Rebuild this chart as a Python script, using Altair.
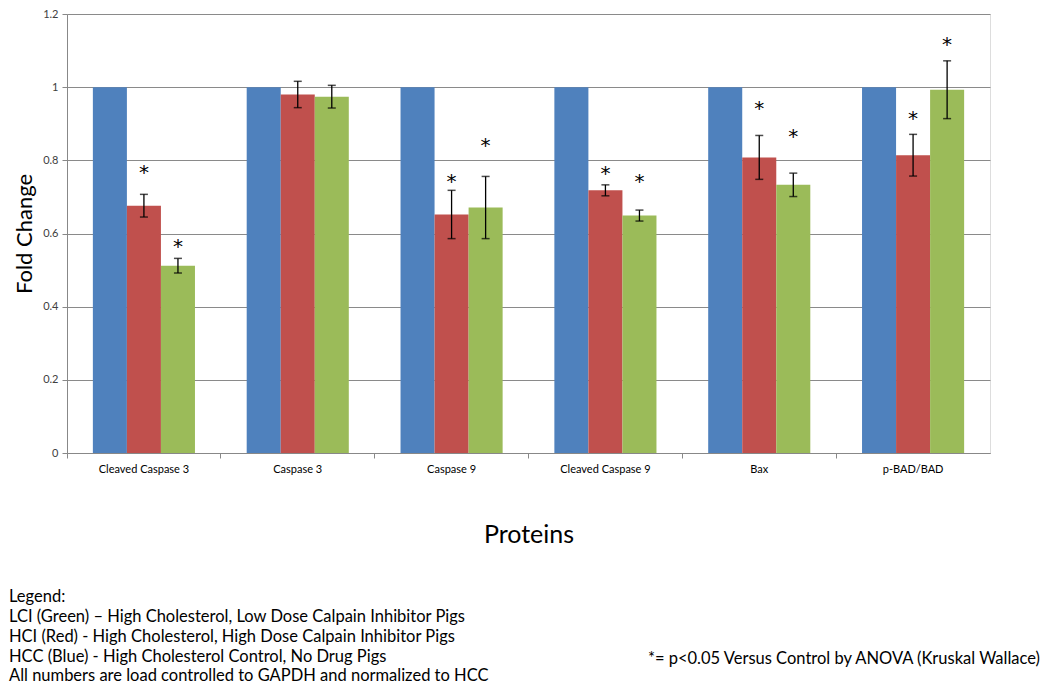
import altair as alt
import pandas as pd

proteins = ["Cleaved Caspase 3", "Caspase 3", "Caspase 9", "Cleaved Caspase 9", "Bax", "p-BAD/BAD"]
groups = ["HCC", "HCI", "LCI"]
hcc_values = [1.0, 1.0, 1.0, 1.0, 1.0, 1.0]
hci_values = [0.676, 0.980, 0.652, 0.718, 0.808, 0.814]
hci_errors = [0.031, 0.036, 0.066, 0.015, 0.060, 0.057]
lci_values = [0.512, 0.974, 0.671, 0.649, 0.733, 0.993]
lci_errors = [0.020, 0.031, 0.085, 0.015, 0.032, 0.079]
hci_star = [0.773, None, 0.748, 0.770, 0.948, 0.920]
lci_star = [0.570, None, 0.848, 0.748, 0.873, 1.124]
colors = ["#4F81BD", "#C0504D", "#9BBB59"]

legend_lines = [
    "Legend:",
    "LCI  (Green) \u2013 High Cholesterol, Low Dose Calpain Inhibitor Pigs",
    "HCI (Red) - High Cholesterol, High Dose Calpain Inhibitor Pigs",
    "HCC (Blue) - High Cholesterol Control, No Drug Pigs",
    "All numbers are load controlled to GAPDH and normalized to HCC",
]
note_text = "*= p<0.05 Versus Control by ANOVA (Kruskal Wallace)"

rows = []
for i, p in enumerate(proteins):
    rows.append({"protein": p, "group": "HCC", "value": hcc_values[i], "lo": None, "hi": None, "star": None})
    rows.append({"protein": p, "group": "HCI", "value": hci_values[i],
                 "lo": hci_values[i] - hci_errors[i], "hi": hci_values[i] + hci_errors[i], "star": hci_star[i]})
    rows.append({"protein": p, "group": "LCI", "value": lci_values[i],
                 "lo": lci_values[i] - lci_errors[i], "hi": lci_values[i] + lci_errors[i], "star": lci_star[i]})
df = pd.DataFrame(rows)

FONT = "Lato"
W, H = 923, 439

x_enc = alt.X("protein:N", sort=proteins,
              scale=alt.Scale(paddingInner=0, paddingOuter=0),
              axis=alt.Axis(title="Proteins", labelAngle=0, labelFontSize=11, labelColor="#000000",
                            labelFont=FONT, labelPadding=5, bandPosition=0, ticks=True, tickSize=5,
                            tickColor="#888888", domainColor="#888888", grid=False,
                            titleFont=FONT, titleFontSize=25, titleFontWeight="normal",
                            titleColor="#000000", titlePadding=48))
xo_enc = alt.XOffset("group:N", sort=groups, scale=alt.Scale(paddingOuter=0.76, paddingInner=0))
y_scale = alt.Scale(domain=[0, 1.2], nice=False)

base = alt.Chart(df)

bars = base.mark_bar(width={"band": 1}).encode(
    x=x_enc,
    xOffset=xo_enc,
    y=alt.Y("value:Q", scale=y_scale,
            axis=alt.Axis(title="Fold Change", values=[0, 0.2, 0.4, 0.6, 0.8, 1.0, 1.2], format=".1~f",
                          labelFontSize=11, labelColor="#404040", labelFont=FONT, labelPadding=4,
                          tickSize=5, tickColor="#888888", domainColor="#888888",
                          grid=True, gridColor="#8A8A8A", gridWidth=1,
                          titleFont=FONT, titleFontSize=22, titleFontWeight="normal",
                          titleColor="#000000", titlePadding=6)),
    color=alt.Color("group:N", sort=groups, scale=alt.Scale(domain=groups, range=colors), legend=None),
)

err = base.transform_filter("isValid(datum.lo)")
rules = err.mark_rule(color="#000000", strokeWidth=1.3).encode(
    x=alt.X("protein:N", sort=proteins), xOffset=alt.XOffset("group:N", sort=groups),
    y="lo:Q", y2="hi:Q")
cap_top = err.mark_tick(color="#000000", size=8, thickness=1.5, orient="horizontal").encode(
    x=alt.X("protein:N", sort=proteins), xOffset=alt.XOffset("group:N", sort=groups), y="hi:Q")
cap_bot = err.mark_tick(color="#000000", size=8, thickness=1.5, orient="horizontal").encode(
    x=alt.X("protein:N", sort=proteins), xOffset=alt.XOffset("group:N", sort=groups), y="lo:Q")

stars = base.transform_filter("isValid(datum.star)").mark_text(
    text="*", font="DejaVu Sans", fontSize=20, color="#000000", baseline="middle", align="center", dy=3
).encode(x=alt.X("protein:N", sort=proteins), xOffset=alt.XOffset("group:N", sort=groups), y="star:Q")

layers = [bars, rules, cap_top, cap_bot, stars]

legend_y = [583, 603, 623, 643, 662]
for line, yy in zip(legend_lines, legend_y):
    layers.append(
        alt.Chart(pd.DataFrame({"t": [line]})).mark_text(
            font=FONT, fontSize=16.5, color="#000000", align="left", baseline="middle"
        ).encode(text="t:N", x=alt.value(-58), y=alt.value(yy))
    )
layers.append(
    alt.Chart(pd.DataFrame({"t": [note_text]})).mark_text(
        font=FONT, fontSize=16.5, color="#000000", align="right", baseline="middle"
    ).encode(text="t:N", x=alt.value(973), y=alt.value(645))
)

chart = alt.layer(*layers).properties(
    width=W, height=H,
    autosize=alt.AutoSizeParams(type="none"),
    padding={"left": 59, "top": 6, "right": 52, "bottom": 231},
).configure_view(stroke=None).configure(background="#FFFFFF")

chart.save("out.html", embed_options={"renderer": "svg", "actions": False})
